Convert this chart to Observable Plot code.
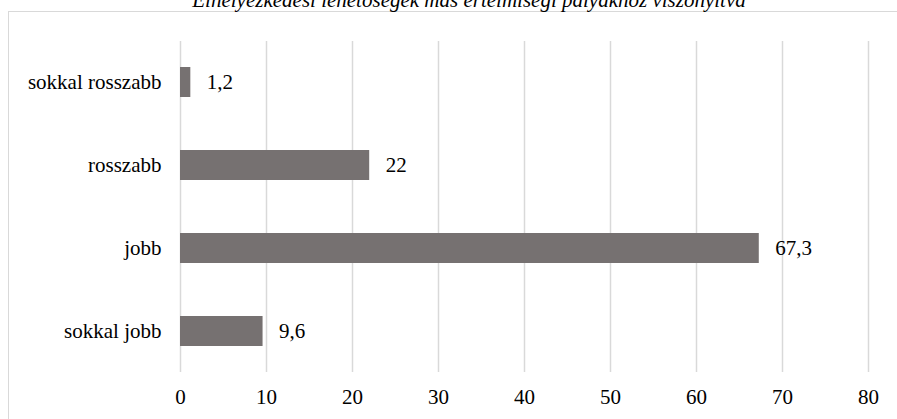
<!DOCTYPE html>
<html>
<head>
<meta charset="utf-8">
<script src="https://cdn.jsdelivr.net/npm/d3@7"></script>
<script src="https://cdn.jsdelivr.net/npm/@observablehq/plot@0.6"></script>
<style>
  html, body { margin: 0; padding: 0; background: #fff; overflow: hidden; width: 897px; height: 419px; }
  #wrap { position: relative; width: 897px; height: 419px; overflow: hidden; }
  #frame { position: absolute; left: 8px; top: 11px; width: 1000px; height: 1000px; border: 1.5px solid #d9d9d9; box-sizing: border-box; }
  #title { position: absolute; left: 469px; top: -10px; transform: translateX(-50%); white-space: nowrap;
           font-family: "Liberation Serif", "Times New Roman", serif; font-style: italic; font-size: 21px; line-height: 21px; color: #000; }
  #chart { position: absolute; left: 0; top: 0; font-family: "Liberation Serif", serif; }
</style>
</head>
<body>
<div id="wrap">
  <div id="frame"></div>
  <div id="title"></div>
  <div id="chart"></div>
</div>
<script>
const titleText = "Elhelyezkedési lehetőségek más értelmiségi pályákhoz viszonyítva";
const categories = ["sokkal rosszabb", "rosszabb", "jobb", "sokkal jobb"];
const values = [1.2, 22, 67.3, 9.6];
const xTicks = [0, 10, 20, 30, 40, 50, 60, 70, 80];

document.getElementById("title").textContent = titleText;

const data = categories.map((c, i) => ({category: c, value: values[i]}));
const fmt = v => String(v).replace(".", ",");

const chart = Plot.plot({
  width: 897,
  height: 419,
  marginLeft: 180,
  marginRight: 29,
  marginTop: 41,
  marginBottom: 47,
  style: {background: "transparent", overflow: "visible"},
  x: {domain: [0, 80], axis: null, label: null},
  y: {domain: categories, paddingInner: 0.644, paddingOuter: 0.314, axis: null, label: null},
  marks: [
    Plot.gridX(xTicks, {stroke: "#d9d9d9", strokeOpacity: 1, strokeWidth: 1.5}),
    Plot.barX(data, {x: "value", y: "category", fill: "#767171"}),
    Plot.text(data, {x: "value", y: "category", text: d => fmt(d.value), textAnchor: "start", dx: 16, fill: "#000", fontSize: 21}),
    Plot.axisX(xTicks, {tickSize: 0, tickPadding: 17, tickFormat: d => String(d), fontSize: 21, label: null}),
    Plot.axisY({tickSize: 0, tickPadding: 19, fontSize: 21, label: null})
  ]
});
chart.setAttribute("font-family", "Liberation Serif");
d3.select(chart).selectAll("g, text").attr("font-family", null).style("font-family", "'Liberation Serif', serif");
document.getElementById("chart").appendChild(chart);
</script>
</body>
</html>
